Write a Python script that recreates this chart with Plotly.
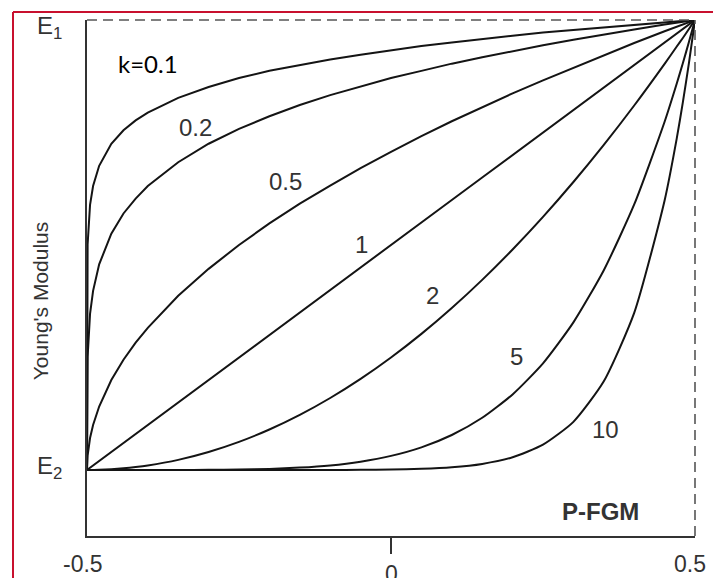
import plotly.graph_objects as go

# Through-thickness coordinate z (from -0.5 to 0.5)
z = [-0.5, -0.499, -0.495, -0.49, -0.48, -0.46, -0.44, -0.42, -0.4, -0.35, -0.3, -0.25,
     -0.2, -0.15, -0.1, -0.05, 0.0, 0.05, 0.1, 0.15, 0.2, 0.25, 0.3, 0.35, 0.4, 0.45,
     0.47, 0.48, 0.49, 0.5]

# Normalised Young's modulus (0 = E2, 1 = E1)
E_k01 = [0, 0.501, 0.589, 0.631, 0.676, 0.725, 0.755, 0.777, 0.794, 0.827, 0.851, 0.871,
         0.887, 0.900, 0.912, 0.923, 0.933, 0.942, 0.950, 0.958, 0.965, 0.972, 0.978, 0.984,
         0.990, 0.995, 0.997, 0.998, 0.999, 1.0]
E_k02 = [0, 0.251, 0.347, 0.398, 0.457, 0.525, 0.570, 0.603, 0.631, 0.684, 0.725, 0.758,
         0.786, 0.811, 0.833, 0.852, 0.871, 0.887, 0.903, 0.917, 0.931, 0.944, 0.956, 0.968,
         0.979, 0.990, 0.994, 0.996, 0.998, 1.0]
E_k05 = [0, 0.032, 0.071, 0.100, 0.141, 0.200, 0.245, 0.283, 0.316, 0.387, 0.447, 0.500,
         0.548, 0.592, 0.632, 0.671, 0.707, 0.742, 0.775, 0.806, 0.837, 0.866, 0.894, 0.922,
         0.949, 0.975, 0.985, 0.990, 0.995, 1.0]
E_k1 = [0, 0.001, 0.005, 0.01, 0.02, 0.04, 0.06, 0.08, 0.1, 0.15, 0.2, 0.25, 0.3, 0.35,
        0.4, 0.45, 0.5, 0.55, 0.6, 0.65, 0.7, 0.75, 0.8, 0.85, 0.9, 0.95, 0.97, 0.98, 0.99, 1.0]
E_k2 = [0, 0.000001, 0.000025, 0.0001, 0.0004, 0.0016, 0.0036, 0.0064, 0.01, 0.0225, 0.04,
        0.0625, 0.09, 0.1225, 0.16, 0.2025, 0.25, 0.3025, 0.36, 0.4225, 0.49, 0.5625, 0.64,
        0.7225, 0.81, 0.9025, 0.941, 0.960, 0.980, 1.0]
E_k5 = [0, 0, 0, 0, 0, 0, 0, 0, 0.00001, 0.00008, 0.00032, 0.00098, 0.0024, 0.0053, 0.0102,
        0.0185, 0.0313, 0.0503, 0.0778, 0.116, 0.168, 0.237, 0.328, 0.444, 0.590, 0.774,
        0.859, 0.904, 0.951, 1.0]
E_k10 = [0, 0, 0, 0, 0, 0, 0, 0, 0, 0, 0, 0, 0, 0, 0.0001, 0.0003, 0.001, 0.0025, 0.006,
         0.0135, 0.0282, 0.0563, 0.107, 0.197, 0.349, 0.599, 0.737, 0.817, 0.904, 1.0]

series = [("0.1", E_k01), ("0.2", E_k02), ("0.5", E_k05), ("1", E_k1),
          ("2", E_k2), ("5", E_k5), ("10", E_k10)]

curve_labels = ["0.2", "0.5", "1", "2", "5", "10"]
label_x = [-0.322, -0.174, -0.049, 0.069, 0.207, 0.352]
label_y = [0.762, 0.642, 0.5, 0.387, 0.253, 0.089]

x_ticks = [-0.5, 0, 0.5]
x_tick_text = ["-0.5", "0", "0.5"]

FONT = "Liberation Sans, Arial, sans-serif"
TXT = "#333333"

fig = go.Figure()
for name, vals in series:
    fig.add_trace(go.Scatter(
        x=z, y=vals, mode="lines", name="k=" + name,
        line=dict(color="#141414", width=2,
                  shape="spline" if name in ("2", "5", "10") else "linear",
                  smoothing=0.6),
        cliponaxis=False, showlegend=False, hoverinfo="skip"))

for t, xv, yv in zip(curve_labels, label_x, label_y):
    fig.add_annotation(x=xv, y=yv, text=t, showarrow=False, xanchor="center", yanchor="middle",
                       font=dict(family=FONT, size=24, color=TXT))

fig.add_annotation(x=-0.4, y=0.904, text="k=0.1", showarrow=False,
                   xanchor="center", yanchor="middle",
                   font=dict(family="Lato, Open Sans, sans-serif", size=24, color="#000000"))
fig.add_annotation(x=0.344, y=-0.093, text="<b>P-FGM</b>", showarrow=False,
                   xanchor="center", yanchor="middle",
                   font=dict(family=FONT, size=24, color=TXT))

# E1 / E2 labels
fig.add_annotation(xref="paper", x=-0.0609, y=1.0, yshift=-7, text="E<sub>1</sub>",
                   showarrow=False, xanchor="center", yanchor="middle",
                   font=dict(family=FONT, size=24, color=TXT))
fig.add_annotation(xref="paper", x=-0.0609, y=0.0, yshift=2, text="E<sub>2</sub>",
                   showarrow=False, xanchor="center", yanchor="middle",
                   font=dict(family=FONT, size=24, color=TXT))

# Y axis title
fig.add_annotation(xref="paper", yref="paper", x=-0.0773, y=0.455, text="Young's Modulus",
                   textangle=-90, showarrow=False, xanchor="center", yanchor="middle",
                   font=dict(family=FONT, size=21, color=TXT))

# x tick labels
tick_dy = [-28, -38, -28]
tick_dx = [-4, 0, -5]
for xv, t, dy, dx in zip(x_ticks, x_tick_text, tick_dy, tick_dx):
    fig.add_annotation(x=xv, yref="paper", y=0, yshift=dy, xshift=dx, text=t,
                       showarrow=False, xanchor="center", yanchor="middle",
                       font=dict(family=FONT, size=23, color=TXT))

# dashed top and right frame lines
fig.add_shape(type="line", xref="paper", yref="paper", x0=0, x1=1, y0=1, y1=1,
              line=dict(color="#555555", width=1.6, dash="10px,6px"))
fig.add_shape(type="line", xref="paper", yref="paper", x0=1, x1=1, y0=0, y1=1,
              line=dict(color="#555555", width=1.6, dash="10px,6px"))

# red border lines of the picture
fig.add_shape(type="line", xref="paper", yref="paper", x0=-0.1217, x1=-0.1217, y0=1.0155, y1=-0.09,
              line=dict(color="#c8102e", width=2))
fig.add_shape(type="line", xref="paper", yref="paper", x0=-0.1217, x1=1.04, y0=1.0155, y1=1.0155,
              line=dict(color="#c8102e", width=2))

fig.update_xaxes(range=[-0.5, 0.5], showgrid=False, zeroline=False,
                 showline=True, linecolor="#333333", linewidth=2,
                 tickvals=[0], ticks="outside", ticklen=16, tickwidth=2, tickcolor="#333333",
                 showticklabels=False)
fig.update_yaxes(range=[-0.1467, 1.0], showgrid=False, zeroline=False,
                 showline=True, linecolor="#333333", linewidth=2,
                 showticklabels=False, ticks="")

fig.update_layout(width=713, height=578, margin=dict(l=87, r=18, t=20, b=42),
                  plot_bgcolor="white", paper_bgcolor="white")

fig.write_html("out.html")
